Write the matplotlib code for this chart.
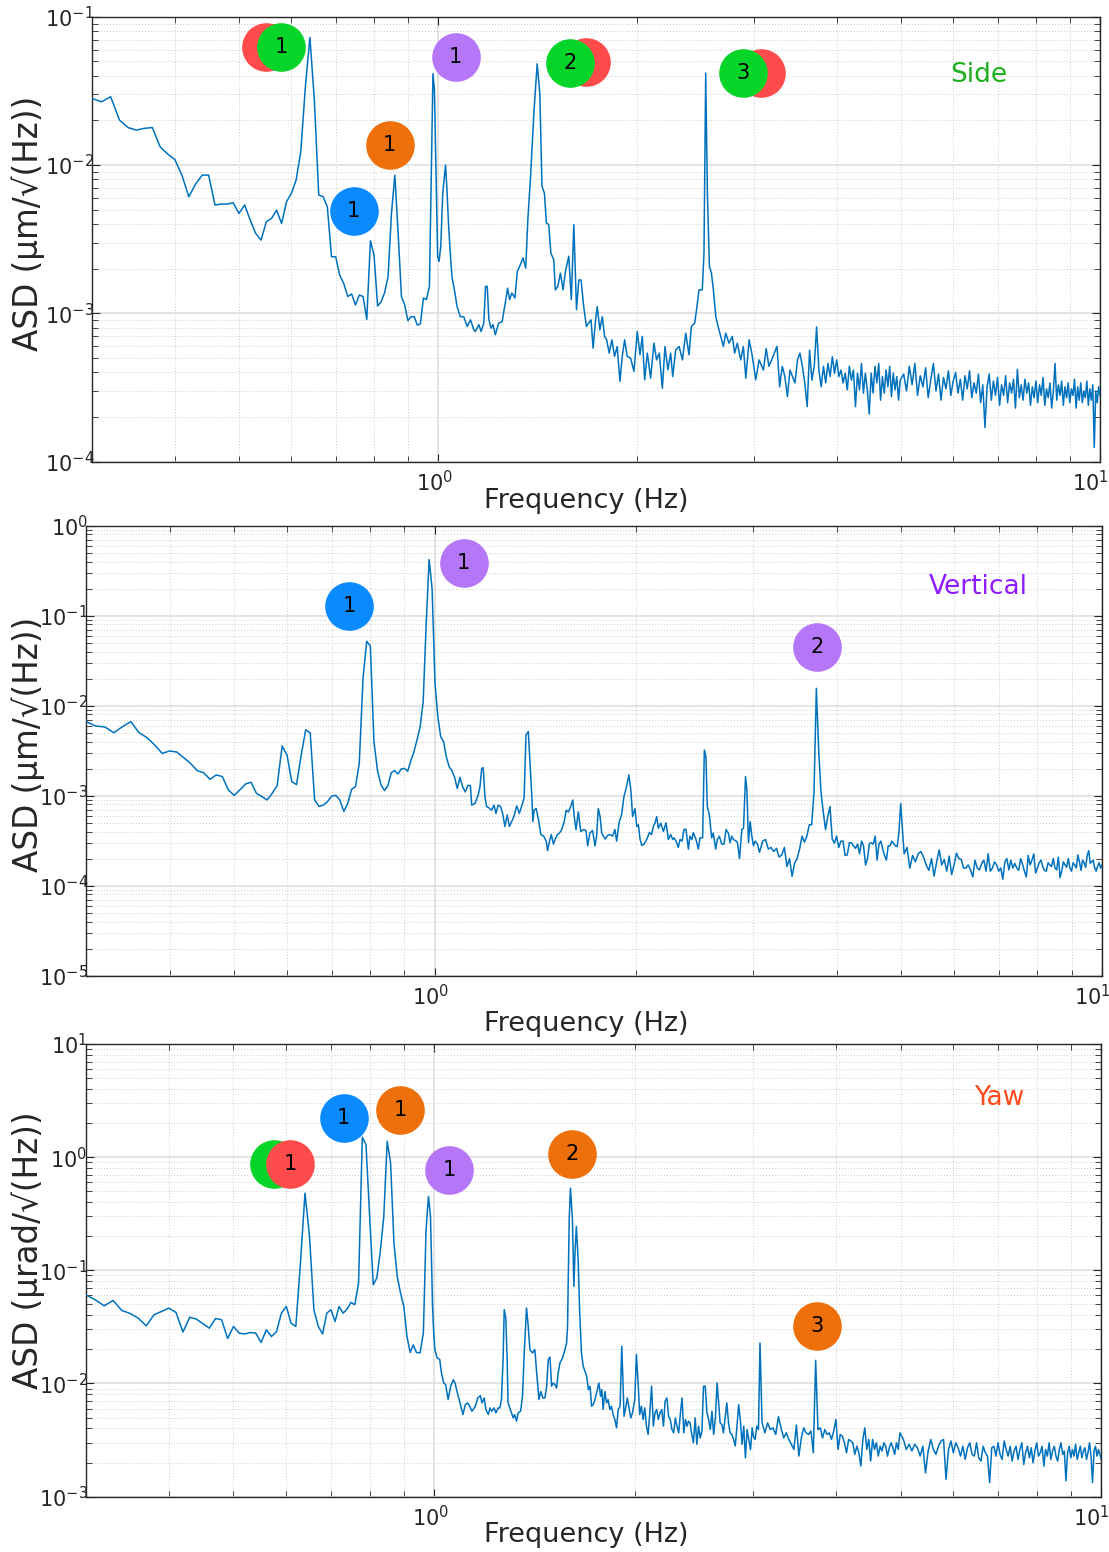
import numpy as np
import matplotlib
matplotlib.use("Agg")
import matplotlib.pyplot as plt
from matplotlib.ticker import LogLocator, NullFormatter
from matplotlib.transforms import ScaledTranslation

plt.rcParams['font.family'] = ['DejaVu Sans']
plt.rcParams['mathtext.fontset'] = 'dejavusans'
plt.rcParams['axes.unicode_minus'] = False

# ---------------------------------------------------------------------------
# Spectra (ASD) of the three degrees of freedom
# ---------------------------------------------------------------------------

# shared high-frequency bins, 3.1 - 10 Hz
freq_hi = [3.10, 3.13, 3.16, 3.19, 3.22, 3.25, 3.28, 3.31, 3.34, 3.37,
           3.40, 3.43, 3.46, 3.49, 3.52, 3.55, 3.58, 3.61, 3.64, 3.67,
           3.70, 3.73, 3.76, 3.79, 3.82, 3.85, 3.88, 3.91, 3.94, 3.97,
           4.00, 4.03, 4.06, 4.09, 4.12, 4.15, 4.18, 4.21, 4.24, 4.27,
           4.30, 4.33, 4.36, 4.39, 4.42, 4.45, 4.48, 4.51, 4.54, 4.57,
           4.60, 4.63, 4.66, 4.69, 4.72, 4.75, 4.78, 4.81, 4.84, 4.87,
           4.90, 4.93, 4.96, 4.99,
           5.05, 5.10, 5.15, 5.20, 5.25, 5.30, 5.35, 5.40, 5.45, 5.50,
           5.55, 5.60, 5.65, 5.70, 5.75, 5.80, 5.85, 5.90, 5.95, 6.00,
           6.05, 6.10, 6.15, 6.20, 6.25, 6.30, 6.35, 6.40, 6.45, 6.50,
           6.55, 6.60, 6.65, 6.70, 6.75, 6.80, 6.85, 6.90, 6.95, 7.00,
           7.05, 7.10, 7.15, 7.20, 7.25, 7.30, 7.35, 7.40, 7.45, 7.50,
           7.55, 7.60, 7.65, 7.70, 7.75, 7.80, 7.85, 7.90, 7.95, 8.00,
           8.05, 8.10, 8.15, 8.20, 8.25, 8.30, 8.35, 8.40, 8.45, 8.50,
           8.55, 8.60, 8.65, 8.70, 8.75, 8.80, 8.85, 8.90, 8.95, 9.00,
           9.05, 9.10, 9.15, 9.20, 9.25, 9.30, 9.35, 9.40, 9.45, 9.50,
           9.55, 9.60, 9.65, 9.70, 9.75, 9.80, 9.85, 9.90, 9.95, 10.00]

# --- Side (um/sqrt(Hz)) ---
side_freq_lo = [0.30, 0.31, 0.32, 0.33, 0.34, 0.35, 0.36, 0.37, 0.38, 0.39,
                0.40, 0.41, 0.42, 0.43, 0.44, 0.45, 0.46, 0.47, 0.48, 0.49,
                0.50, 0.51, 0.52, 0.53, 0.54, 0.55, 0.56, 0.57, 0.58, 0.59,
                0.60, 0.61, 0.62, 0.63, 0.64, 0.65, 0.66, 0.67, 0.68, 0.69,
                0.70, 0.71, 0.72, 0.73, 0.74, 0.75, 0.76, 0.77, 0.78, 0.79,
                0.80, 0.81, 0.82, 0.83, 0.84, 0.85, 0.86, 0.87, 0.88, 0.89,
                0.90, 0.91, 0.92, 0.93, 0.94, 0.95, 0.96, 0.97]
side_asd_lo = [0.0281, 0.0267, 0.0289, 0.0201, 0.0179, 0.0172, 0.0177, 0.0179, 0.0133, 0.0119,
               0.0109, 0.00856, 0.00612, 0.00745, 0.00856, 0.00856, 0.00538, 0.00546, 0.00546, 0.00557,
               0.00472, 0.00538, 0.00426, 0.00346, 0.00312, 0.00415, 0.00437, 0.00497, 0.00404, 0.00566,
               0.00644, 0.00792, 0.0123, 0.0337, 0.0726, 0.0274, 0.00628, 0.00612, 0.00524, 0.00241,
               0.00241, 0.00181, 0.00159, 0.00130, 0.00135, 0.00114, 0.00133, 0.00130, 0.000911, 0.00309,
               0.00247, 0.00112, 0.00120, 0.00138, 0.00177, 0.00472, 0.00856, 0.00346, 0.00130, 0.00114,
               0.000893, 0.00095, 0.00095, 0.000834, 0.00085, 0.00127, 0.00124, 0.00152]
side_freq_mid = [0.982, 0.987, 0.994, 0.998, 1.003, 1.009, 1.016, 1.026, 1.031, 1.037,
                 1.043, 1.049, 1.058, 1.068, 1.080, 1.093, 1.106, 1.119, 1.132, 1.138,
                 1.152, 1.161, 1.172, 1.179, 1.186, 1.193, 1.202, 1.210, 1.220, 1.234,
                 1.249, 1.263, 1.273, 1.282, 1.292, 1.306, 1.317, 1.331, 1.343, 1.356,
                 1.366, 1.379, 1.395, 1.411, 1.424, 1.435, 1.447, 1.457, 1.469, 1.480,
                 1.495, 1.503, 1.516, 1.530, 1.544, 1.557, 1.575, 1.589, 1.603, 1.618,
                 1.631, 1.644, 1.659, 1.675, 1.688, 1.702, 1.714, 1.729, 1.739, 1.755,
                 1.770, 1.784, 1.797, 1.813, 1.830, 1.847, 1.864, 1.882, 1.897, 1.913,
                 1.930, 1.953, 1.976, 1.999, 2.018, 2.034, 2.051, 2.070, 2.094, 2.118,
                 2.138, 2.158, 2.181, 2.201, 2.224, 2.245, 2.261, 2.285, 2.312, 2.339,
                 2.366, 2.393, 2.413, 2.441, 2.458, 2.478, 2.506, 2.521, 2.536, 2.551,
                 2.569, 2.587, 2.605, 2.627, 2.648, 2.672, 2.697, 2.719, 2.750, 2.782,
                 2.805, 2.831, 2.865, 2.891, 2.916, 2.950, 2.983, 3.018, 3.054]
side_asd_mid = [0.0413, 0.0322, 0.00647, 0.00243, 0.00224, 0.00283, 0.00647, 0.0100, 0.00683, 0.00386,
                0.00255, 0.00177, 0.00144, 0.00111, 0.00095, 0.00095, 0.000816, 0.000905, 0.000775, 0.000755,
                0.00084, 0.000755, 0.00086, 0.00152, 0.00152, 0.000905, 0.000795, 0.00084, 0.000718, 0.00086,
                0.00088, 0.00118, 0.00148, 0.00124, 0.00137, 0.00127, 0.00192, 0.00213, 0.00237, 0.00202,
                0.00428, 0.00838, 0.0224, 0.0482, 0.0306, 0.00718, 0.00647, 0.00407, 0.00397, 0.00255,
                0.00230, 0.00144, 0.00152, 0.00187, 0.00144, 0.00192, 0.00243, 0.00124, 0.00397, 0.00106,
                0.00168, 0.00168, 0.00111, 0.000816, 0.00086, 0.000905, 0.000583, 0.000905, 0.00111, 0.000775,
                0.00095, 0.0007, 0.000664, 0.00054, 0.000664, 0.000513, 0.000598, 0.000348, 0.000513, 0.000664,
                0.000513, 0.0005, 0.000407, 0.000755, 0.000526, 0.0007, 0.000357, 0.00054, 0.000366, 0.00063,
                0.000486, 0.00054, 0.000313, 0.000598, 0.000417, 0.00054, 0.000375, 0.000568, 0.000598, 0.000486,
                0.000736, 0.000526, 0.000816, 0.00086, 0.00108, 0.00144, 0.00144, 0.00255, 0.0417, 0.00647,
                0.00207, 0.00187, 0.00144, 0.00095, 0.000816, 0.0007, 0.000598, 0.000736, 0.00063, 0.0007,
                0.00054, 0.00063, 0.000486, 0.000598, 0.000366, 0.000664, 0.000513, 0.000357, 0.000486]
side_asd_hi = [4.15e-4, 5.8e-4, 4.4e-4, 4.85e-4, 5.4e-4, 6.0e-4, 3.2e-4, 4.4e-4, 3.75e-4, 2.75e-4,
               4.15e-4, 3.75e-4, 3.4e-4, 4.85e-4, 5.4e-4, 4.4e-4, 3.4e-4, 2.35e-4, 5.65e-4, 3.55e-4,
               4.4e-4, 8.1e-4, 4.15e-4, 3.2e-4, 4.4e-4, 3.4e-4, 4.6e-4, 3.75e-4, 5.1e-4, 3.95e-4,
               4.85e-4, 3.75e-4, 4.15e-4, 3.4e-4, 3.95e-4, 3.05e-4, 4.4e-4, 3.55e-4, 4.15e-4, 2.35e-4,
               3.95e-4, 3.05e-4, 4.6e-4, 2.9e-4, 3.95e-4, 3.05e-4, 2.1e-4, 3.95e-4, 2.9e-4, 4.4e-4,
               3.4e-4, 4.6e-4, 2.6e-4, 3.75e-4, 2.9e-4, 4.15e-4, 3.2e-4, 4.4e-4, 2.75e-4, 3.95e-4,
               3.05e-4, 3.75e-4, 2.6e-4, 3.55e-4,
               3.9e-4, 3.0e-4, 4.4e-4, 3.3e-4, 4.6e-4, 2.8e-4, 3.8e-4, 3.2e-4, 4.3e-4, 2.7e-4,
               3.6e-4, 4.6e-4, 3.0e-4, 3.9e-4, 2.6e-4, 3.7e-4, 3.1e-4, 4.1e-4, 2.8e-4, 3.5e-4,
               4.0e-4, 2.9e-4, 3.6e-4, 2.6e-4, 3.8e-4, 3.1e-4, 4.1e-4, 2.7e-4, 3.4e-4, 2.9e-4,
               3.9e-4, 2.5e-4, 3.3e-4, 1.7e-4, 3.2e-4, 3.9e-4, 2.6e-4, 3.5e-4, 2.8e-4, 3.7e-4,
               2.4e-4, 3.3e-4, 2.8e-4, 3.8e-4, 2.5e-4, 3.4e-4, 2.9e-4, 3.6e-4, 2.3e-4, 4.2e-4,
               2.7e-4, 3.3e-4, 2.6e-4, 3.6e-4, 2.9e-4, 3.4e-4, 2.4e-4, 3.2e-4, 2.7e-4, 3.5e-4,
               2.5e-4, 3.3e-4, 2.8e-4, 3.7e-4, 2.4e-4, 3.1e-4, 2.7e-4, 3.4e-4, 2.3e-4, 3.0e-4,
               4.6e-4, 2.6e-4, 3.3e-4, 2.8e-4, 3.5e-4, 2.4e-4, 3.2e-4, 2.7e-4, 3.4e-4, 2.5e-4,
               3.1e-4, 2.8e-4, 3.6e-4, 2.3e-4, 3.2e-4, 2.6e-4, 3.4e-4, 2.5e-4, 3.0e-4, 2.7e-4,
               3.5e-4, 2.4e-4, 3.1e-4, 2.6e-4, 3.3e-4, 1.25e-4, 3.0e-4, 2.5e-4, 3.2e-4, 2.8e-4]

# --- Vertical (um/sqrt(Hz)) ---
vert_freq_lo = [0.30, 0.31, 0.32, 0.33, 0.34, 0.35, 0.36, 0.37, 0.38, 0.39,
                0.40, 0.41, 0.42, 0.43, 0.44, 0.45, 0.46, 0.47, 0.48, 0.49,
                0.50, 0.51, 0.52, 0.53, 0.54, 0.55, 0.56, 0.57, 0.58, 0.59,
                0.60, 0.61, 0.62, 0.63, 0.64, 0.65, 0.66, 0.67, 0.68, 0.69,
                0.70, 0.71, 0.72, 0.73, 0.74, 0.75, 0.76, 0.77, 0.78, 0.79,
                0.80, 0.81, 0.82, 0.83, 0.84, 0.85, 0.86, 0.87, 0.88, 0.89,
                0.90, 0.91, 0.92, 0.93, 0.94, 0.95, 0.96, 0.97, 0.98, 0.99,
                1.00, 1.01, 1.02, 1.03, 1.04, 1.05, 1.06, 1.07, 1.08, 1.09,
                1.10, 1.11, 1.12, 1.13]
vert_asd_lo = [0.00665, 0.00595, 0.0058, 0.00501, 0.00585, 0.00665, 0.00501, 0.00442, 0.00366, 0.00295,
               0.00314, 0.00306, 0.00264, 0.00229, 0.00190, 0.00180, 0.00152, 0.00170, 0.00163, 0.00116,
               0.00101, 0.00116, 0.00135, 0.00141, 0.00106, 0.00098, 0.000896, 0.00106, 0.0013, 0.00357,
               0.00283, 0.00143, 0.00133, 0.0028, 0.0054, 0.0050, 0.0009, 0.00076, 0.000785, 0.00086,
               0.00099, 0.00101, 0.000896, 0.00067, 0.00082, 0.00118, 0.00126, 0.00229, 0.020, 0.052,
               0.046, 0.0040, 0.0019, 0.00132, 0.00114, 0.00130, 0.00180, 0.00190, 0.00174, 0.00198,
               0.00201, 0.00187, 0.00245, 0.00307, 0.0042, 0.0058, 0.0110, 0.080, 0.42, 0.20,
               0.018, 0.0075, 0.0045, 0.0040, 0.0027, 0.0021, 0.0019, 0.0016, 0.0012, 0.0016,
               0.00126, 0.0011, 0.0013, 0.0013]
vert_freq_mid = [1.135, 1.148, 1.161, 1.168, 1.175, 1.181, 1.188, 1.195, 1.209, 1.216,
                 1.226, 1.234, 1.244, 1.254, 1.263, 1.273, 1.283, 1.293, 1.303, 1.313,
                 1.326, 1.338, 1.348, 1.360, 1.369, 1.380, 1.389, 1.397, 1.402, 1.408,
                 1.418, 1.430, 1.441, 1.455, 1.468, 1.475, 1.485, 1.494, 1.505, 1.514,
                 1.526, 1.537, 1.549, 1.562, 1.573, 1.585, 1.598, 1.609, 1.616, 1.627,
                 1.640, 1.654, 1.669, 1.684, 1.694, 1.707, 1.723, 1.737, 1.747, 1.757,
                 1.768, 1.778, 1.788, 1.801, 1.813, 1.830, 1.846, 1.861, 1.872, 1.889,
                 1.904, 1.920, 1.937, 1.953, 1.966, 1.978, 1.994, 2.007, 2.018, 2.030,
                 2.042, 2.058, 2.077, 2.096, 2.112, 2.125, 2.137, 2.150, 2.162, 2.180,
                 2.200, 2.220, 2.238, 2.256, 2.272, 2.282, 2.298, 2.316, 2.330, 2.346,
                 2.362, 2.378, 2.398, 2.411, 2.428, 2.439, 2.462, 2.482, 2.496, 2.519,
                 2.534, 2.548, 2.560, 2.578, 2.599, 2.613, 2.635, 2.650, 2.669, 2.690,
                 2.712, 2.731, 2.753, 2.769, 2.785, 2.802, 2.828, 2.841, 2.861, 2.884,
                 2.901, 2.921, 2.935, 2.951, 2.968, 2.985, 3.002, 3.019, 3.044, 3.065]
vert_asd_mid = [7.85e-4, 8.2e-4, 1.02e-3, 1.26e-3, 2.01e-3, 2.05e-3, 9.8e-4, 7.6e-4, 7.2e-4, 6.9e-4,
                7.85e-4, 6.35e-4, 7.85e-4, 7.6e-4, 6.35e-4, 4.55e-4, 6.1e-4, 4.55e-4, 5.15e-4, 5.85e-4,
                7.7e-4, 6.35e-4, 7.6e-4, 9.4e-4, 4.73e-3, 5.15e-3, 2.1e-3, 9.8e-4, 5.15e-4, 6.9e-4,
                7.2e-4, 5.35e-4, 3.7e-4, 3.55e-4, 3.13e-4, 2.45e-4, 3.13e-4, 3.7e-4, 2.9e-4, 3.26e-4,
                3.7e-4, 3.85e-4, 4.2e-4, 5.15e-4, 6.9e-4, 6.6e-4, 7.6e-4, 8.96e-4, 6.1e-4, 4.2e-4,
                6.6e-4, 4.0e-4, 4.2e-4, 4.1e-4, 2.77e-4, 3.85e-4, 4.1e-4, 2.77e-4, 3.55e-4, 7.2e-4,
                5.85e-4, 3.85e-4, 3.55e-4, 3.3e-4, 3.6e-4, 3.7e-4, 3.55e-4, 4.2e-4, 3.13e-4, 5.15e-4,
                6.1e-4, 9.8e-4, 1.26e-3, 1.70e-3, 1.16e-3, 5.85e-4, 7.2e-4, 4.55e-4, 4.75e-4, 3.26e-4,
                2.8e-4, 2.9e-4, 3.26e-4, 3.9e-4, 3.7e-4, 4.55e-4, 4.95e-4, 5.85e-4, 4.35e-4, 4.95e-4,
                4.0e-4, 5.0e-4, 3.26e-4, 3.7e-4, 3.26e-4, 3.4e-4, 3.13e-4, 2.66e-4, 3.26e-4, 3.13e-4,
                4.2e-4, 4.25e-4, 2.55e-4, 3.55e-4, 3.26e-4, 3.9e-4, 3.26e-4, 2.55e-4, 3.4e-4, 3.4e-4,
                3.22e-3, 2.71e-3, 7.6e-4, 6.1e-4, 3.4e-4, 3.85e-4, 2.55e-4, 3.26e-4, 3.55e-4, 2.9e-4,
                2.9e-4, 4.2e-4, 3.85e-4, 3.0e-4, 3.55e-4, 3.26e-4, 3.13e-4, 3.0e-4, 2.0e-4, 4.2e-4,
                4.35e-4, 1.63e-3, 1.16e-3, 3.0e-4, 5.15e-4, 3.55e-4, 2.77e-4, 3.13e-4, 2.9e-4, 2.35e-4]
vert_asd_hi = [3.13e-4, 3.26e-4, 2.55e-4, 2.66e-4, 2.4e-4, 2.6e-4, 2.08e-4, 2.2e-4, 2.66e-4, 1.63e-4,
               2.0e-4, 1.27e-4, 1.77e-4, 2.0e-4, 2.55e-4, 3.55e-4, 3.05e-4, 3.55e-4, 4.75e-4, 4.75e-4,
               1.1e-3, 1.56e-2, 3.2e-3, 1.11e-3, 6.6e-4, 4.2e-4, 5.85e-4, 7.6e-4, 3.3e-4, 2.97e-4,
               3.55e-4, 2.66e-4, 3.13e-4, 3.13e-4, 2.17e-4, 2.2e-4, 3.0e-4, 3.0e-4, 2.77e-4, 2.6e-4,
               2.9e-4, 2.26e-4, 3.13e-4, 2.77e-4, 1.7e-4, 2.0e-4, 2.95e-4, 3.0e-4, 2.9e-4, 3.55e-4,
               1.92e-4, 2.9e-4, 3.13e-4, 2.55e-4, 2.17e-4, 1.92e-4, 2.77e-4, 2.77e-4, 3.13e-4, 2.95e-4,
               2.77e-4, 2.72e-4, 3.85e-4, 8.2e-4,
               2.26e-4, 2.66e-4, 1.57e-4, 2.17e-4, 1.84e-4, 2.26e-4, 2.4e-4, 2.08e-4, 1.7e-4, 1.48e-4,
               2.0e-4, 1.28e-4, 1.84e-4, 2.5e-4, 1.7e-4, 1.96e-4, 1.45e-4, 2.13e-4, 1.33e-4, 1.7e-4,
               2.3e-4, 2.0e-4, 1.96e-4, 1.57e-4, 1.57e-4, 1.7e-4, 1.5e-4, 1.25e-4, 1.92e-4, 1.57e-4,
               1.5e-4, 1.77e-4, 1.92e-4, 1.45e-4, 2.26e-4, 1.45e-4, 1.57e-4, 1.84e-4, 1.7e-4, 1.45e-4,
               1.57e-4, 1.18e-4, 1.84e-4, 2.0e-4, 1.5e-4, 1.92e-4, 1.57e-4, 1.77e-4, 1.57e-4, 1.48e-4,
               2.0e-4, 1.73e-4, 1.45e-4, 1.25e-4, 2.17e-4, 1.7e-4, 1.92e-4, 2.26e-4, 1.38e-4, 1.57e-4,
               1.8e-4, 1.92e-4, 1.63e-4, 1.48e-4, 1.45e-4, 1.8e-4, 1.7e-4, 1.63e-4, 2.0e-4, 1.57e-4,
               1.5e-4, 2.08e-4, 1.23e-4, 1.45e-4, 1.84e-4, 1.7e-4, 1.6e-4, 2.0e-4, 1.57e-4, 1.45e-4,
               1.8e-4, 1.7e-4, 1.57e-4, 2.2e-4, 1.84e-4, 1.48e-4, 1.92e-4, 1.8e-4, 1.6e-4, 2.17e-4,
               2.45e-4, 1.77e-4, 1.84e-4, 1.92e-4, 1.57e-4, 1.45e-4, 1.66e-4, 1.8e-4, 1.57e-4, 1.7e-4]

# --- Yaw (urad/sqrt(Hz)) ---
yaw_freq_lo = [0.30, 0.31, 0.32, 0.33, 0.34, 0.35, 0.36, 0.37, 0.38, 0.39,
               0.40, 0.41, 0.42, 0.43, 0.44, 0.45, 0.46, 0.47, 0.48, 0.49,
               0.50, 0.51, 0.52, 0.53, 0.54, 0.55, 0.56, 0.57, 0.58, 0.59,
               0.60, 0.61, 0.62, 0.63, 0.64, 0.65, 0.66, 0.67, 0.68, 0.69,
               0.70, 0.71, 0.72, 0.73, 0.74, 0.75, 0.76, 0.77, 0.78, 0.79,
               0.80, 0.81, 0.82, 0.83, 0.84, 0.85, 0.86, 0.87, 0.88, 0.89,
               0.90, 0.91, 0.92, 0.93, 0.94]
yaw_asd_lo = [0.0608, 0.055, 0.0486, 0.0541, 0.0442, 0.0415, 0.0377, 0.0323, 0.0404, 0.0433,
              0.0463, 0.0424, 0.0285, 0.0385, 0.0370, 0.0337, 0.0308, 0.0375, 0.0365, 0.025,
              0.0319, 0.0278, 0.0274, 0.0282, 0.0278, 0.023, 0.0298, 0.026, 0.0287, 0.0418,
              0.0479, 0.034, 0.0319, 0.116, 0.48, 0.20, 0.0448, 0.0319, 0.0274, 0.0418,
              0.0448, 0.0353, 0.0479, 0.0418, 0.0454, 0.052, 0.0496, 0.0771, 1.5, 1.29,
              0.300, 0.0745, 0.0854, 0.147, 0.30, 1.38, 0.89, 0.174, 0.088, 0.063,
              0.0479, 0.026, 0.0188, 0.0219, 0.0188]
yaw_freq_mid = [0.952, 0.963, 0.972, 0.980, 0.987, 0.994, 0.998, 1.002, 1.010, 1.019,
                1.025, 1.033, 1.040, 1.049, 1.058, 1.068, 1.074, 1.083, 1.093, 1.104,
                1.113, 1.122, 1.130, 1.139, 1.152, 1.162, 1.172, 1.179, 1.188, 1.195,
                1.205, 1.212, 1.219, 1.229, 1.237, 1.247, 1.254, 1.261, 1.268, 1.273,
                1.280, 1.286, 1.290, 1.300, 1.313, 1.320, 1.328, 1.336, 1.347, 1.356,
                1.364, 1.375, 1.383, 1.391, 1.404, 1.415, 1.424, 1.435, 1.444, 1.454,
                1.465, 1.474, 1.482, 1.491, 1.499, 1.508, 1.517, 1.525, 1.534, 1.543,
                1.557, 1.570, 1.579, 1.584, 1.593, 1.600, 1.611, 1.619, 1.626, 1.633,
                1.643, 1.652, 1.662, 1.672, 1.682, 1.692, 1.702, 1.712, 1.721, 1.731,
                1.741, 1.751, 1.765, 1.775, 1.783, 1.791, 1.802, 1.812, 1.822, 1.833,
                1.843, 1.854, 1.865, 1.876, 1.887, 1.899, 1.910, 1.916, 1.925, 1.938,
                1.947, 1.960, 1.971, 1.982, 1.998, 2.009, 2.021, 2.032, 2.044, 2.056,
                2.068, 2.080, 2.092, 2.105, 2.117, 2.130, 2.142, 2.155, 2.167, 2.180,
                2.193, 2.206, 2.218, 2.232, 2.245, 2.258, 2.271, 2.285, 2.298, 2.311,
                2.325, 2.339, 2.352, 2.366, 2.380, 2.393, 2.404, 2.418, 2.432, 2.446,
                2.461, 2.475, 2.490, 2.504, 2.519, 2.533, 2.548, 2.563, 2.578, 2.593,
                2.608, 2.623, 2.639, 2.654, 2.670, 2.682, 2.698, 2.713, 2.729, 2.745,
                2.761, 2.777, 2.793, 2.810, 2.826, 2.843, 2.859, 2.876, 2.893, 2.910,
                2.927, 2.944, 2.961, 2.979, 2.996, 3.009, 3.027, 3.044, 3.062, 3.078]
yaw_asd_mid = [0.0186, 0.028, 0.228, 0.449, 0.299, 0.048, 0.028, 0.0199, 0.0168, 0.0163,
               0.0124, 0.0101, 0.00975, 0.00721, 0.00945, 0.0108, 0.0101, 0.00825, 0.00673, 0.00531,
               0.0065, 0.00673, 0.00629, 0.00568, 0.00629, 0.00745, 0.0078, 0.00673, 0.00745, 0.00588,
               0.00531, 0.00608, 0.00568, 0.00608, 0.0055, 0.00608, 0.00608, 0.00721, 0.0163, 0.0449,
               0.0379, 0.0163, 0.00673, 0.00588, 0.00496, 0.00531, 0.00464, 0.0055, 0.00568, 0.00771,
               0.0186, 0.0464, 0.032, 0.0199, 0.0186, 0.0199, 0.0124, 0.00721, 0.0085, 0.00745,
               0.00745, 0.00945, 0.0163, 0.0171, 0.00945, 0.0101, 0.00975, 0.0091, 0.0124, 0.0152,
               0.0168, 0.0199, 0.0228, 0.032, 0.280, 0.532, 0.280, 0.0721, 0.152, 0.244,
               0.124, 0.042, 0.0186, 0.0142, 0.0128, 0.0116, 0.00882, 0.00945, 0.00629, 0.0065,
               0.00721, 0.00825, 0.0101, 0.00771, 0.00882, 0.00588, 0.0085, 0.00673, 0.00721, 0.00588,
               0.00629, 0.00531, 0.0048, 0.00405, 0.00588, 0.00629, 0.0213, 0.0124, 0.00513, 0.00629,
               0.00745, 0.00588, 0.00496, 0.0055, 0.00721, 0.0180, 0.0101, 0.00531, 0.00629, 0.0048,
               0.00608, 0.00419, 0.00354, 0.00568, 0.00945, 0.00419, 0.0055, 0.00588, 0.0048, 0.0055,
               0.00588, 0.00419, 0.00697, 0.00745, 0.00513, 0.0048, 0.00392, 0.00366, 0.00496, 0.00419,
               0.00366, 0.0055, 0.00745, 0.00366, 0.0048, 0.00419, 0.00464, 0.00449, 0.00354, 0.00299,
               0.00496, 0.0029, 0.00419, 0.0033, 0.00379, 0.00945, 0.00945, 0.0055, 0.0048, 0.00392,
               0.00568, 0.00354, 0.00496, 0.0101, 0.0065, 0.00449, 0.00434, 0.00366, 0.00496, 0.00673,
               0.00449, 0.00366, 0.00354, 0.0032, 0.0028, 0.00419, 0.0065, 0.0048, 0.0029, 0.00419,
               0.0022, 0.0039, 0.0032, 0.0026, 0.00405, 0.0034, 0.0032, 0.00419, 0.00392, 0.0228]
yaw_asd_hi = [0.0045, 0.00366, 0.00448, 0.00391, 0.00405, 0.00354, 0.0051, 0.00405, 0.0033, 0.00366,
              0.0032, 0.0029, 0.00261, 0.0043, 0.00228, 0.0033, 0.00405, 0.00366, 0.00354, 0.0038,
              0.00244, 0.0160, 0.00391, 0.00405, 0.0033, 0.00391, 0.00354, 0.00366, 0.0032, 0.0038,
              0.0048, 0.00261, 0.00354, 0.00342, 0.00299, 0.00244, 0.0032, 0.0031, 0.00299, 0.00236,
              0.00279, 0.00244, 0.00186, 0.0032, 0.00405, 0.00261, 0.0032, 0.00206, 0.0032, 0.00261,
              0.00299, 0.00228, 0.00279, 0.00253, 0.00299, 0.00279, 0.00228, 0.0027, 0.00299, 0.0027,
              0.00236, 0.00299, 0.00261, 0.00366,
              0.0032, 0.00261, 0.0029, 0.00253, 0.0029, 0.0027, 0.00228, 0.00279, 0.00162, 0.00253,
              0.0032, 0.00261, 0.00236, 0.00279, 0.0031, 0.0032, 0.00142, 0.00261, 0.0031, 0.00244,
              0.00299, 0.0027, 0.00228, 0.00279, 0.00213, 0.0027, 0.00299, 0.00236, 0.00228, 0.00299,
              0.0022, 0.00206, 0.00279, 0.00244, 0.00228, 0.00133, 0.0027, 0.00279, 0.00228, 0.00299,
              0.00236, 0.00213, 0.0031, 0.00261, 0.00228, 0.00279, 0.00206, 0.00253, 0.00279, 0.00213,
              0.00261, 0.00299, 0.00192, 0.00244, 0.00279, 0.0022, 0.0027, 0.00199, 0.00253, 0.00299,
              0.00228, 0.00244, 0.00279, 0.00186, 0.00261, 0.00228, 0.00299, 0.00213, 0.00253, 0.00279,
              0.00228, 0.00206, 0.00261, 0.00299, 0.00236, 0.00253, 0.00138, 0.00244, 0.00279, 0.0022,
              0.00261, 0.00228, 0.0029, 0.00213, 0.00244, 0.00279, 0.0022, 0.00253, 0.0027, 0.00213,
              0.00244, 0.00299, 0.00228, 0.00133, 0.00253, 0.00279, 0.00228, 0.00261, 0.00236, 0.00213]

# ---------------------------------------------------------------------------
# Styling
# ---------------------------------------------------------------------------
LINE = '#0072BD'
AXC = '#262626'
RED, GREEN, ORANGE, BLUE, PURPLE = '#FF4B4B', '#05D529', '#EE700A', '#0A8AFF', '#B676F8'


def join(*pairs):
    fs, vs = [], []
    for f, v in pairs:
        if len(f) != len(v):
            raise ValueError('length mismatch: %d vs %d' % (len(f), len(v)))
        fs += list(f)
        vs += list(v)
    return np.array(fs), np.array(vs)


panels = [
    dict(rect=[0.08305, 0.7025, 0.9089, 0.2867],
         data=join((side_freq_lo, side_asd_lo), (side_freq_mid, side_asd_mid), (freq_hi, side_asd_hi)),
         ylim=(1e-4, 1e-1), ylabel='ASD (μm/√(Hz))',
         name=('Side', '#1DAF1D', 6.55, 0.0404),
         badges=[(0.549, 0.0625, RED, ''), (0.5785, 0.0625, GREEN, '1'),
                 (0.845, 0.01364, ORANGE, '1'), (0.745, 0.0049, BLUE, '1'),
                 (1.063, 0.0535, PURPLE, '1'),
                 (1.672, 0.0495, RED, ''), (1.581, 0.0487, GREEN, '2'),
                 (3.073, 0.0417, RED, ''), (2.886, 0.0417, GREEN, '3')],
         ylab=(45, 0.536), xlab_top=488),
    dict(rect=[0.07773, 0.37133, 0.9160, 0.28995],
         data=join((vert_freq_lo, vert_asd_lo), (vert_freq_mid, vert_asd_mid), (freq_hi, vert_asd_hi)),
         ylim=(1e-5, 1e0), ylabel='ASD (μm/√(Hz))',
         name=('Vertical', '#8E1CFF', 6.53, 0.2084),
         badges=[(0.743, 0.1295, BLUE, '1'), (1.104, 0.385, PURPLE, '1'),
                 (3.736, 0.0451, PURPLE, '2')],
         ylab=(45, 0.515), xlab_top=1011),
    dict(rect=[0.0771, 0.0357, 0.9160, 0.29162],
         data=join((yaw_freq_lo, yaw_asd_lo), (yaw_freq_mid, yaw_asd_mid), (freq_hi, yaw_asd_hi)),
         ylim=(1e-3, 1e1), ylabel='ASD (μrad/√(Hz))',
         name=('Yaw', '#FF4A1C', 7.02, 3.30),
         badges=[(0.575, 0.862, GREEN, ''), (0.608, 0.862, RED, '1'),
                 (0.731, 2.20, BLUE, '1'), (0.888, 2.615, ORANGE, '1'),
                 (1.052, 0.772, PURPLE, '1'), (1.608, 1.069, ORANGE, '2'),
                 (3.748, 0.0320, ORANGE, '3')],
         ylab=(45, 0.545), xlab_top=1522),
]

W, H = 1109, 1552
fig = plt.figure(figsize=(W / 100, H / 100), dpi=100)

for p in panels:
    ax = fig.add_axes(p['rect'])
    freq, asd = p['data']
    ax.plot(freq, asd, color=LINE, lw=1.1, zorder=3)
    ax.set_xscale('log')
    ax.set_yscale('log')
    ax.set_xlim(0.3, 10)
    ax.set_ylim(*p['ylim'])

    for axis in (ax.xaxis, ax.yaxis):
        axis.set_major_locator(LogLocator(base=10, numticks=20))
        axis.set_minor_locator(LogLocator(base=10, subs=np.arange(2, 10), numticks=20))
        axis.set_minor_formatter(NullFormatter())

    ax.set_axisbelow(True)
    ax.grid(True, which='major', color='#DCDCDC', lw=1.1, ls='-')
    ax.grid(True, which='minor', color='#CDCDCD', lw=0.7, ls=(0, (1, 2)))

    ax.tick_params(which='both', direction='in', top=True, right=True,
                   colors=AXC, labelsize=15)
    ax.tick_params(which='major', length=6, width=0.8)
    ax.tick_params(which='minor', length=4, width=0.6)
    ax.tick_params(axis='y', pad=-1.5)
    ax.tick_params(axis='x', pad=6)
    for s in ax.spines.values():
        s.set_color(AXC)
        s.set_linewidth(1.0)

    # badges marking the identified modes
    for f, v, c, t in p['badges']:
        ax.plot([f], [v], 'o', ms=35, mfc=c, mec='none', zorder=5, clip_on=False)
        if t:
            ax.text(f, v, t, ha='center', va='center', fontsize=15, color='black',
                    zorder=6, clip_on=False)

    nm, col, nf, nv = p['name']
    ax.text(nf, nv, nm, color=col, fontsize=19, ha='center', va='center', zorder=6)

    # axis labels placed in pixel terms relative to the axes box
    x0, y0, w, h = p['rect']
    wpx, hpx = w * W, h * H
    ax.set_ylabel(p['ylabel'], fontsize=23.5, color=AXC)
    ax.yaxis.set_label_coords((p['ylab'][0] - x0 * W) / wpx, p['ylab'][1])
    ax.set_xlabel('Frequency (Hz)', fontsize=19.5, color=AXC)
    bottom_px = (1 - y0) * H
    ax.xaxis.set_label_coords((586 - x0 * W) / wpx, -(p['xlab_top'] - bottom_px) / hpx)

    # nudge the decade labels on the frequency axis left so the last one stays inside
    locs = ax.xaxis.get_majorticklocs()
    for loc, tick in zip(locs, ax.xaxis.get_major_ticks(len(locs))):
        dx = -10 if loc > 5 else -4
        tick.label1.set_transform(tick.label1.get_transform() +
                                  ScaledTranslation(dx / 100, 0, fig.dpi_scale_trans))

fig.savefig('out.png', dpi=100)
